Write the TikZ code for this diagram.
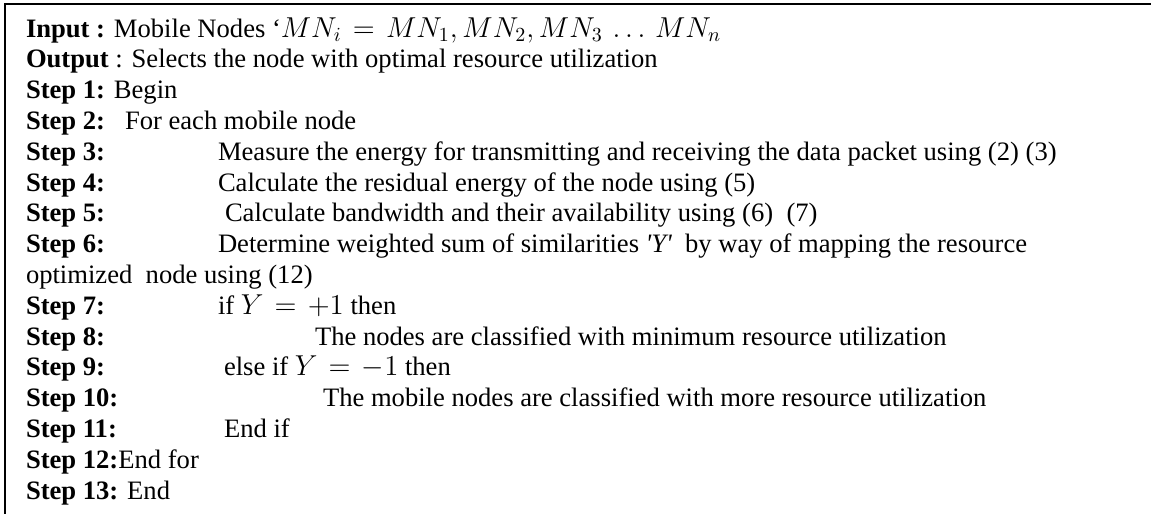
\documentclass[tikz,border=0pt]{standalone}
\usepackage{fontspec}
\setmainfont{Liberation Serif}
% inline formulas are set a little larger, with roomier relations
\newcommand{\mth}[1]{{\fontsize{14.8}{15.4}\selectfont$\thickmuskip=7mu plus 2mu #1$}}
\begin{document}
\begin{tikzpicture}[x=0.5pt,y=-0.5pt,
  txt/.style={anchor=base west, inner sep=0pt, outer sep=0pt,
    text height=9.5pt, text depth=3pt, font=\fontsize{13.3}{15.4}\selectfont},
  frame/.style={line width=1pt}]
\useasboundingbox (0,0) rectangle (1151,514);
% open frame: top rule and left rule
\coordinate (tr) at (1151,3.5);
\coordinate (tl) at (4.5,3.5);
\coordinate (bl) at (4.5,514);
\draw[frame] (tr) -- (tl) -- (bl);

% algorithm lines
\node[txt] (inp) at (26,37) {\textbf{Input :} Mobile Nodes ‘\mth{MN_i = MN_1, MN_2, MN_3\,\ldots\,MN_n}};
\node[txt] (outp) at (26,67.8) {\textbf{Output} : Selects the node with optimal resource utilization};
\node[txt] (s1) at (26,98.6) {\textbf{Step 1:} Begin};
\node[txt] (s2l) at (26,129.4) {\textbf{Step 2:}};
\node[txt] (s2c) at (125,129.4) {For each mobile node};
\node[txt] (s3l) at (26,160.2) {\textbf{Step 3:}};
\node[txt] (s3c) at (218,160.2) {Measure the energy for transmitting and receiving the data packet using (2) (3)};
\node[txt] (s4l) at (26,191) {\textbf{Step 4:}};
\node[txt] (s4c) at (218,191) {Calculate the residual energy of the node using (5)};
\node[txt] (s5l) at (26,221.8) {\textbf{Step 5:}};
\node[txt] (s5c) at (225,221.8) {Calculate bandwidth and their availability using (6)\ \ (7)};
\node[txt] (s6l) at (26,252.6) {\textbf{Step 6:}};
\node[txt] (s6c) at (218,252.6) {Determine weighted sum of similarities {\itshape\textquotesingle Y\textquotesingle}\ \ by way of mapping the resource};
\node[txt] (s6d) at (26,283.4) {optimized\ \ node using (12)};
\node[txt] (s7l) at (26,314.2) {\textbf{Step 7:}};
\node[txt] (s7c) at (218,314.2) {if \mth{Y = +1} then};
\node[txt] (s8l) at (26,345) {\textbf{Step 8:}};
\node[txt] (s8c) at (315,345) {The nodes are classified with minimum resource utilization};
\node[txt] (s9l) at (26,375.8) {\textbf{Step 9:}};
\node[txt] (s9c) at (224,375.8) {else if \mth{Y = -1} then};
\node[txt] (s10l) at (26,406.6) {\textbf{Step 10:}};
\node[txt] (s10c) at (323,406.6) {The mobile nodes are classified with more resource utilization};
\node[txt] (s11l) at (26,437.4) {\textbf{Step 11:}};
\node[txt] (s11c) at (224,437.4) {End if};
\node[txt] (s12) at (26,468.2) {\textbf{Step 12:}End for};
\node[txt] (s13) at (26,499) {\textbf{Step 13:} End};
\end{tikzpicture}
\end{document}
